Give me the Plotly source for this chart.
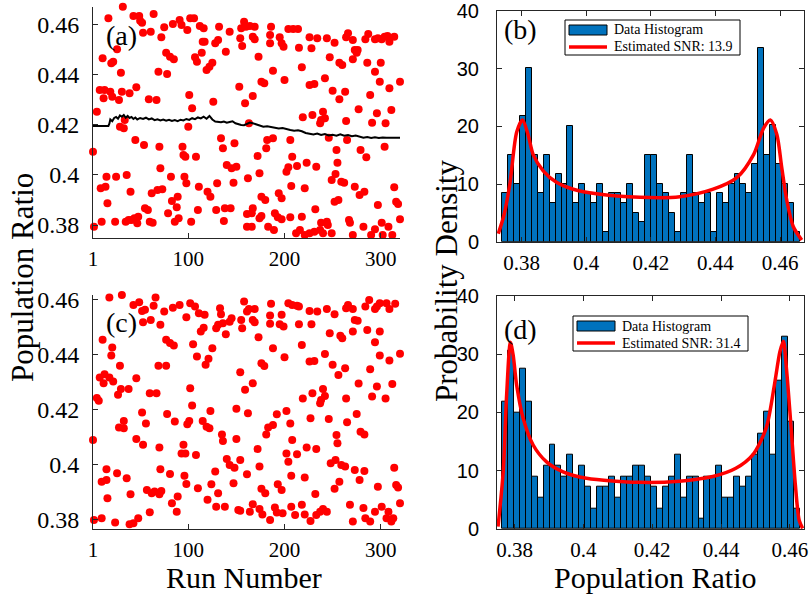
import numpy as np
import plotly.graph_objects as go

# ---------------- data ----------------
# panel (a): run number / population ratio
a_run = [1, 2, 5, 8, 9, 10, 11, 12, 13, 14,
         15, 16, 17, 19, 20, 22, 21, 24, 25, 26,
         28, 29, 30, 31, 32, 33, 34, 35, 36, 38,
         39, 40, 41, 43, 44, 45, 46, 47, 48, 49,
         50, 52, 53, 54, 55, 58, 59, 60, 61, 62,
         63, 64, 67, 68, 69, 70, 71, 72, 73, 75,
         77, 78, 79, 81, 82, 83, 84, 85, 86, 88,
         89, 90, 91, 93, 94, 95, 96, 97, 98, 99,
         100, 101, 102, 103, 104, 106, 107, 108, 109, 110,
         111, 112, 114, 115, 116, 117, 119, 120, 122, 123,
         125, 126, 128, 129, 130, 131, 132, 134, 136, 137,
         138, 139, 140, 143, 144, 145, 147, 148, 150, 153,
         154, 155, 156, 158, 159, 160, 161, 162, 163,
         161, 164, 166, 166, 167, 167, 167, 169, 169, 172,
         173, 174, 174, 176, 176, 176, 179, 180, 181, 182,
         183, 185, 185, 186, 188, 188, 189, 190, 193, 194,
         195, 197, 197, 197, 199, 200, 202, 204, 204, 206,
         206, 207, 208, 209, 212, 213, 214, 215, 216, 218,
         218, 219, 221, 221, 223, 226, 226, 226, 228, 229,
         231, 231, 232, 233, 234, 237, 237, 238, 238, 240,
         240, 242, 242, 244, 244, 245, 246, 247, 249, 249,
         250, 252, 252, 253, 254, 255, 256, 257, 257, 259,
         260, 262, 263, 264, 264, 265, 266, 267, 268, 271,
         271, 271, 273, 273, 275, 276, 277, 278, 279, 282,
         283, 284, 285, 286, 287, 289, 290, 291, 294, 294,
         294, 296, 297, 297, 299, 300, 301, 301, 302, 304,
         304, 305, 307, 308, 309, 309, 311, 312, 314, 314,
         316, 318, 320, 320]
a_ratio = [.4093, .3793, .4253, .4340, .3947, .3813, .4467, .4307, .4340, .3953,
           .3993, .3887, .4627, .4333, .4447, .4453, .4313, .3813, .3993, .4503,
           .4300, .4193, .4409, .4333, .4673, .4187, .4220, .3813, .4000, .3820,
           .4327, .3933, .3820, .4636, .3827, .4140, .4351, .3807, .3833, .4636,
           .4617, .4609, .4569, .4120, .3867, .3860, .4303, .3813, .4573, .3927,
           .3809, .4644, .4300, .3940, .4413, .4113, .4027, .4551, .3943, .4591,
           .4489, .4404, .3847, .4473, .3993, .3896, .4604, .4463, .3813, .3871,
           .3913, .3827, .4620, .4600, .4113, .4080, .3993, .4073, .3967, .4580,
           .4193, .4320, .4627, .3813, .4267, .4627, .4471, .4073, .4453, .3860,
           .3953, .4596, .4489, .4533, .4587, .4533, .4420, .3933, .4433, .3913,
           .4449, .4293, .4527, .3860, .3967, .4540, .4593, .4147, .4107, .3816,
           .3867, .4493, .4040, .4573, .3867, .4027, .3969, .4127, .4033, .4353,
           .4547, .4587, .4516, .4613, .4287, .4593, .3793, .3987, .4207,
           .3844, .4596, .3847, .3793, .4316, .4553, .3867, .4593, .4543, .4076,
           .4473, .4007, .3827, .4373, .3913, .3836, .4367, .3900, .4107, .4140,
           .3793, .4560, .4527, .4593, .4147, .4417, .3780, .3847, .3831, .3927,
           .4551, .4527, .3907, .3823, .4513, .4380, .4013, .4584, .4031, .4140,
           .3831, .3956, .4073, .4584, .3767, .4036, .4584, .4509, .3780, .4431,
           .3833, .4231, .3947, .3760, .4049, .4551, .4360, .3767, .4507, .4240,
           .4364, .3773, .3863, .4033, .4547, .4207, .3780, .4220, .3809, .4253,
           .3767, .4387, .4227, .3813, .4547, .3800, .4149, .4471, .3980, .3767,
           .4337, .4529, .3893, .4004, .4100, .4049, .3900, .4303, .4449, .3973,
           .4440, .3969, .4333, .4216, .4551, .4140, .4567, .3820, .3809, .4463,
           .4540, .3760, .4500, .3953, .4489, .4500, .4263, .3920, .4100, .3793,
           .3933, .4543, .4071, .4449, .4564, .4320, .3760, .4209, .4543, .4413,
           .3783, .4247, .4547, .3880, .4373, .4449, .4543, .3809, .3760, .4553,
           .4113, .4207, .4556, .3793, .4533, .4347, .4260, .3760, .4553, .3951,
           .3893, .3884, .4373, .3823]

# panel (a): black running estimate
line_run = [1, 17, 18, 19, 21, 23, 25, 27, 29, 31, 33, 35, 37, 39, 41, 43, 45, 47,
            50, 53, 56, 59, 62, 65, 68, 71, 74, 77, 80, 83, 86, 89, 92, 95, 98,
            101, 104, 107, 110, 113, 116, 119, 122, 125, 128, 131, 134, 137, 140,
            143, 146, 149, 152, 155, 158, 161, 164, 167, 170, 174, 178, 182, 186,
            190, 194, 198, 202, 206, 210, 214, 218, 222, 226, 230, 234, 238, 242,
            246, 250, 254, 258, 262, 266, 270, 274, 278, 282, 286, 290, 294, 298,
            302, 306, 320]
line_ratio = [.4196, .4196, .4205, .4222, .4215, .4228, .4232, .4225, .4238, .4233,
              .4240, .4229, .4236, .4228, .4232, .4224, .4230, .4222,
              .4228, .4224, .4229, .4222, .4226, .4219, .4223, .4218, .4222, .4217,
              .4221, .4216, .4220, .4215, .4221, .4218, .4224,
              .4220, .4227, .4223, .4230, .4226, .4233, .4225, .4236, .4222, .4214,
              .4212, .4211, .4214, .4209,
              .4212, .4215, .4207, .4202, .4200, .4199, .4203, .4210, .4207, .4203,
              .4196, .4193, .4195, .4191,
              .4190, .4186, .4188, .4183, .4180, .4177, .4179, .4175, .4168, .4165,
              .4162, .4166, .4160, .4164,
              .4158, .4161, .4157, .4163, .4157, .4160, .4155, .4158, .4153, .4149,
              .4152, .4148, .4151, .4148,
              .4150, .4149, .4149]

# panel (c): run number / population ratio
c_run = [1, 2, 5, 7, 8, 10, 10, 11, 12, 13,
         15, 15, 16, 18, 18, 20, 21, 22, 24, 26,
         27, 28, 29, 30, 31, 33, 33, 36, 38, 39,
         40, 43, 43, 46, 46, 48, 49, 52, 52, 53,
         53, 55, 56, 57, 60, 60, 61, 62, 64, 65,
         66, 67, 69, 70, 70, 71, 71, 72, 75, 77,
         77, 78, 81, 81, 83, 84, 85, 86, 88, 89,
         91, 93, 95, 96, 97, 98, 98, 99, 101, 102,
         102, 104, 105, 107, 108, 109, 110, 111, 113, 115,
         116, 117, 118, 119, 120, 121, 122, 123, 124, 125,
         128, 129, 129, 131, 131, 133, 134, 135, 136, 136,
         138, 139, 140, 143, 143, 145, 147, 148, 150, 150,
         152, 154, 155, 156, 158, 159, 161, 161, 162, 163,
         154, 154, 164, 167, 167, 167, 169, 169, 172, 173,
         174, 174, 176, 176, 177, 179, 180, 181, 183, 185,
         185, 185, 186, 188, 188, 190, 192, 192, 193, 195,
         197, 197, 198, 199, 200, 202, 202, 204, 204, 206,
         207, 207, 208, 208, 211, 213, 213, 215, 215, 218,
         218, 219, 221, 221, 223, 226, 226, 227, 227, 228,
         229, 231, 232, 233, 233, 234, 237, 237, 238, 240,
         240, 242, 242, 244, 244, 246, 247, 248, 250, 252,
         252, 253, 254, 255, 256, 257, 258, 259, 260, 263,
         263, 264, 264, 265, 266, 268, 271, 271, 271, 273,
         273, 275, 276, 277, 278, 279, 282, 283, 283, 284,
         284, 286, 288, 289, 289, 291, 294, 294, 294, 296,
         296, 297, 299, 299, 299, 301, 305, 306, 306, 308,
         309, 309, 311, 312, 313, 314, 315, 316, 318, 320,
         320]
c_ratio = [.4091, .3800, .4243, .4233, .4318, .3939, .3806, .4455, .4297, .4330,
           .3945, .3984, .3879, .4609, .4318, .4398, .4427, .4303, .3791, .3970,
           .4255, .4136, .4361, .4276, .4618, .4133, .4160, .3952, .4276, .3784,
           .3893, .4582, .3788, .4094, .4315, .3806, .4592, .4560, .4191, .4519,
           .4073, .4564, .4151, .3909, .4261, .3828, .4527, .3897, .4579, .3903,
           .4609, .4261, .4361, .4063, .3893, .3984, .4510, .3905, .4558, .4455,
           .4361, .4185, .4443, .3967, .3861, .4572, .4434, .4158, .3830, .3885,
           .4582, .4042, .4073, .3961, .4042, .4537, .3931, .4148, .4160, .4588,
           .4279, .4216, .4439, .4576, .4036, .4394, .3915, .4552, .4485, .4160,
           .4499, .4546, .4364, .4139, .3873, .4386, .4133, .4196, .3930, .4424,
           .3976, .4497, .3848, .4510, .3897, .4570, .4548, .4111, .4515, .4087,
           .3848, .4475, .4022, .4521, .4000, .4533, .3933, .3990, .4094, .4204,
           .3836, .4337, .4527, .4497, .4594, .4273, .4558, .3966, .4188, .4567,
           .4018, .3833, .3830, .3857, .4527, .4297, .4567, .4519, .4058, .4464,
           .3994, .3840, .4370, .3913, .3820, .4360, .3897, .4111, .4136, .4543,
           .3800, .4513, .4586, .4145, .4424, .3845, .4184, .3827, .3930, .4512,
           .4546, .3909, .3824, .4503, .4392, .4196, .4042, .4588, .4012, .4151,
           .3848, .3961, .4582, .4091, .3818, .4579, .4039, .4576, .4512, .4436,
           .3855, .4242, .3954, .3820, .4063, .4560, .4376, .4170, .3796, .4512,
           .4261, .4378, .3894, .4058, .3818, .4558, .4224, .3830, .4236, .4276,
           .3840, .4403, .4251, .4567, .3830, .4167, .4479, .4006, .4364, .4548,
           .3913, .4018, .4109, .4079, .4327, .3939, .4470, .4000, .4461, .4352,
           .3994, .4242, .4570, .4155, .4582, .3855, .4485, .4567, .3794, .4527,
           .3982, .4185, .4524, .4296, .3945, .4121, .3843, .4111, .3978, .4576,
           .3806, .4491, .4600, .3794, .4348, .4249, .4567, .4446, .3830, .4576,
           .4285, .3921, .4588, .4485, .4398, .3848, .4242, .4588, .3806, .3830,
           .4567, .4380, .3794, .4294, .3806, .3990, .4586, .3927, .3918, .3861,
           .4404]

# panel (b): histogram (probability density) and fitted curve
b_lo, b_hi = 0.3739, 0.4662
b_density = [8.4, 15.0, 10.0, 21.8, 30.2, 15.0, 8.4, 15.0, 6.7, 11.7,
             10.0, 20.1, 6.7, 10.0, 8.4, 6.7, 10.0, 1.7, 8.4, 8.4,
             6.7, 10.0, 5.0, 3.4, 15.1, 15.1, 10.0, 8.4, 5.0, 1.7,
             8.4, 15.1, 8.4, 6.7, 8.4, 1.7, 8.4, 6.7, 10.0, 11.7,
             10.0, 8.4, 13.4, 33.6, 15.1, 20.2, 13.4, 10.0, 6.7, 1.7]
b_fit_x = [0.3728, 0.3745, 0.3764, 0.3785, 0.3803, 0.3820, 0.3836, 0.3867, 0.3908,
           0.3960, 0.4032, 0.4166, 0.4290, 0.4393, 0.4466, 0.4518, 0.4549, 0.4570,
           0.4590, 0.4605, 0.4621, 0.4641, 0.4667]
b_fit_y = [1.4, 4.5, 10.1, 19.0, 21.1, 18.6, 15.1, 12.3, 10.3,
           9.1, 8.3, 7.7, 7.8, 9.1, 11.1, 15.1, 19.7, 21.1,
           18.6, 12.9, 7.1, 2.6, 0.3]
b_snr = 13.9

# panel (d): histogram (probability density) and fitted curve
d_lo, d_hi = 0.3763, 0.4629
d_density = [21.8, 30.6, 20.0, 27.4, 21.8, 9.0, 5.4, 10.8, 14.5, 10.8,
             9.0, 12.7, 9.0, 10.8, 7.3, 3.5, 7.3, 7.3, 9.0, 5.4,
             9.0, 9.0, 10.8, 10.8, 9.0, 7.3, 3.5, 7.3, 9.0, 12.7,
             5.4, 9.0, 9.0, 1.7, 9.0, 9.0, 10.8, 5.4, 5.4, 9.0,
             7.3, 9.0, 12.7, 16.4, 20.1, 12.7, 25.5, 32.9, 18.4, 3.5]
d_fit_x = [0.3752, 0.3767, 0.3777, 0.3788, 0.3796, 0.3806, 0.3825, 0.3854, 0.3893,
           0.3941, 0.4009, 0.4163, 0.4279, 0.4376, 0.4443, 0.4492, 0.4531, 0.4555,
           0.4571, 0.4581, 0.4590, 0.4603, 0.4616, 0.4627, 0.4637]
d_fit_y = [0.4, 9.8, 23.0, 32.0, 29.8, 24.7, 19.0, 14.4, 11.5,
           9.8, 8.7, 8.0, 8.2, 9.0, 10.4, 12.7, 17.3, 24.7,
           30.4, 32.2, 27.5, 17.8, 7.5, 1.5, 0.1]
d_snr = 31.4

run_ticks = [1, 100, 200, 300]
ratio_ticks = [0.38, 0.40, 0.42, 0.44, 0.46]
ratio_labels = ["0.38", "0.4", "0.42", "0.44", "0.46"]
dens_ticks = [0, 10, 20, 30, 40]

# ---------------- figure ----------------
W, H = 809, 597
def fx(p): return p / W
def fy(p): return 1 - p / H

SERIF = "Liberation Serif, Times New Roman, serif"
SANS = "Liberation Sans, Arial, sans-serif"
BLUE = "#0072BD"

fig = go.Figure()

fig.add_trace(go.Scatter(x=a_run, y=a_ratio, mode="markers", cliponaxis=False,
                         marker=dict(color="#ff0000", size=8), xaxis="x", yaxis="y",
                         showlegend=False))
fig.add_trace(go.Scatter(x=line_run, y=line_ratio, mode="lines", cliponaxis=False,
                         line=dict(color="black", width=2), xaxis="x", yaxis="y",
                         showlegend=False))
fig.add_trace(go.Scatter(x=c_run, y=c_ratio, mode="markers", cliponaxis=False,
                         marker=dict(color="#ff0000", size=8), xaxis="x3", yaxis="y3",
                         showlegend=False))


def add_hist(lo, hi, dens, fx_, fy_, xa, ya):
    edges = np.linspace(lo, hi, len(dens) + 1)
    centers = (edges[:-1] + edges[1:]) / 2
    fig.add_trace(go.Bar(x=centers, y=dens, width=(hi - lo) / len(dens),
                         marker=dict(color=BLUE, line=dict(color="black", width=1)),
                         xaxis=xa, yaxis=ya, showlegend=False))
    fig.add_trace(go.Scatter(x=fx_, y=fy_, mode="lines",
                             line=dict(color="#ff0000", width=3.5, shape="spline", smoothing=0.8),
                             xaxis=xa, yaxis=ya, showlegend=False))


add_hist(b_lo, b_hi, b_density, b_fit_x, b_fit_y, "x2", "y2")
add_hist(d_lo, d_hi, d_density, d_fit_x, d_fit_y, "x4", "y4")

AX = "#262626"
base = dict(showline=True, linecolor=AX, linewidth=1, ticks="inside", ticklen=5,
            tickcolor=AX, showgrid=False, zeroline=False, automargin=False,
            ticklabeloverflow="allow")
serif_ticks = dict(family=SERIF, size=21, color="black")
serif_yticks = dict(family=SERIF, size=24, color="black")
sans_ticks = dict(family=SANS, size=20, color="black")

fig.update_layout(
    template="none",
    width=W, height=H, autosize=False,
    margin=dict(l=0, r=0, t=0, b=0, pad=0),
    paper_bgcolor="white", plot_bgcolor="white",
    bargap=0,
    xaxis=dict(domain=[fx(93), fx(400)], range=[1, 320], tickvals=run_ticks,
               anchor="y", tickfont=serif_ticks, ticklabelstandoff=2, **base),
    yaxis=dict(domain=[fy(238), fy(6.7)], range=[0.3748, 0.4673], tickvals=ratio_ticks,
               ticktext=ratio_labels, anchor="x", tickfont=serif_yticks,
               ticklabelstandoff=8, **base),
    xaxis3=dict(domain=[fx(93), fx(400)], range=[1, 320], tickvals=run_ticks,
                anchor="y3", tickfont=serif_ticks, ticklabelstandoff=2, **base),
    yaxis3=dict(domain=[fy(529), fy(295)], range=[0.3767, 0.4618], tickvals=ratio_ticks,
                ticktext=ratio_labels, anchor="x3", tickfont=serif_yticks,
                ticklabelstandoff=8, **base),
    xaxis2=dict(domain=[fx(497), fx(804)], range=[0.3724, 0.4674], tickvals=ratio_ticks,
                ticktext=ratio_labels, anchor="y2", mirror="ticks",
                tickfont=serif_ticks, ticklabelstandoff=2, **base),
    yaxis2=dict(domain=[fy(241.7), fy(11)], range=[0, 40], tickvals=dens_ticks, anchor="x2",
                mirror="ticks", tickfont=sans_ticks, ticklabelstandoff=13, **base),
    xaxis4=dict(domain=[fx(497), fx(804)], range=[0.3749, 0.4641], tickvals=ratio_ticks,
                ticktext=ratio_labels, anchor="y4", mirror="ticks",
                tickfont=serif_ticks, ticklabelstandoff=2, **base),
    yaxis4=dict(domain=[fy(529), fy(295.7)], range=[0, 40], tickvals=dens_ticks, anchor="x4",
                mirror="ticks", tickfont=sans_ticks, ticklabelstandoff=13, **base),
)

ann = []
def text(x, y, s, size, angle=0, xanchor="center", family=SERIF):
    ann.append(dict(x=fx(x), y=fy(y), xref="paper", yref="paper", text=s, showarrow=False,
                    textangle=angle, xanchor=xanchor, yanchor="middle",
                    font=dict(family=family, size=size, color="black")))

text(121, 35, "(a)", 28)
text(121, 322, "(c)", 28)
text(520, 30, "(b)", 28)
text(520, 329, "(d)", 28)
text(22, 278, "Population Ratio", 31, angle=-90)
text(446, 281, "Probability Density", 31, angle=-90)
text(244, 577, "Run Number", 30)
text(655, 577, "Population Ratio", 30)

shapes = []
def legend(x0, y0, x1, y1, snr):
    shapes.append(dict(type="rect", xref="paper", yref="paper", x0=fx(x0), x1=fx(x1),
                       y0=fy(y1), y1=fy(y0), fillcolor="white", line=dict(color="black", width=1)))
    shapes.append(dict(type="rect", xref="paper", yref="paper", x0=fx(x0 + 4), x1=fx(x0 + 42),
                       y0=fy(y0 + 15), y1=fy(y0 + 5), fillcolor=BLUE,
                       line=dict(color="black", width=1)))
    shapes.append(dict(type="line", xref="paper", yref="paper", x0=fx(x0 + 4), x1=fx(x0 + 42),
                       y0=fy(y0 + 27), y1=fy(y0 + 27), line=dict(color="#ff0000", width=3.5)))
    text(x0 + 47, y0 + 10, "Data Histogram", 14, xanchor="left")
    text(x0 + 47, y0 + 27, "Estimated SNR: %.1f" % snr, 14, xanchor="left")

legend(565, 20, 740, 55, b_snr)
legend(573, 316, 748, 351, d_snr)

fig.update_layout(annotations=ann, shapes=shapes)
fig.write_html("out.html")
